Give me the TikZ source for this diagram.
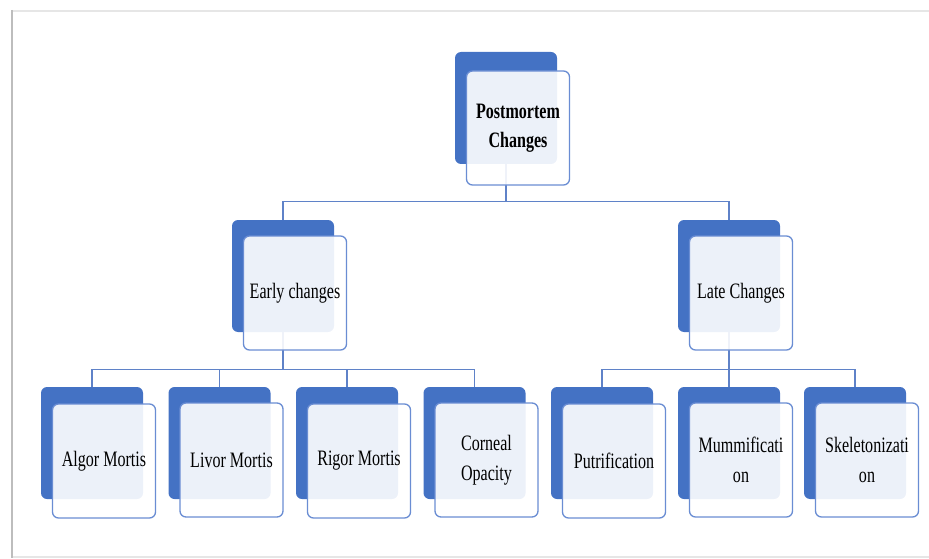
\documentclass[tikz,border=0pt]{standalone}
\usepackage{fontspec}
\newfontfamily\narrowserif[FakeStretch=0.73]{Liberation Serif}
\definecolor{officeblue}{HTML}{4472C4}
\definecolor{edgeblue}{HTML}{6A8DD3}
\definecolor{linkblue}{HTML}{5F82C8}
\definecolor{framegrey}{HTML}{E6E6E6}
\definecolor{sidegrey}{HTML}{BDBDBD}
\tikzset{
  backcard/.style={fill=officeblue, rounded corners=6pt, minimum width=102pt, minimum height=112pt, inner sep=0pt},
  frontcard/.style={draw=edgeblue, fill=white, fill opacity=0.9, text opacity=1, line width=1.3pt, rounded corners=6pt,
    minimum width=103pt, minimum height=114pt, inner sep=2pt, align=center, font=\narrowserif\fontsize{22}{30}\selectfont},
  link/.style={draw=linkblue, line width=1.1pt}
}
\begin{document}
\begin{tikzpicture}[x=1pt, y=-1pt]
  \useasboundingbox (0,0) rectangle (929,559);
  \draw[framegrey, line width=2pt] (929,11) -- (12,11);
  \draw[framegrey, line width=2pt] (12,557) -- (929,557);
  \draw[sidegrey, line width=2.5pt] (12,10) -- (12,558);

  \node[backcard] (pmb) at (506,108) {};
  \node[backcard] (earlyb) at (283,276) {};
  \node[backcard] (lateb) at (729,276) {};
  \node[backcard] (algorb) at (92,443) {};
  \node[backcard] (livorb) at (219.5,443) {};
  \node[backcard] (rigorb) at (347,443) {};
  \node[backcard] (corneab) at (474.5,443) {};
  \node[backcard] (putrib) at (602,443) {};
  \node[backcard] (mummib) at (729,443) {};
  \node[backcard] (skeleb) at (855,443) {};

  \draw[link] (pmb.south) -- ([yshift=-37pt]pmb.south) -| (earlyb.north);
  \draw[link] ([yshift=-37pt]pmb.south) -| (lateb.north);
  \draw[link] (earlyb.south) -- ([yshift=-37pt]earlyb.south) -| (algorb.north);
  \draw[link] ([yshift=-37pt]earlyb.south) -| (livorb.north);
  \draw[link] ([yshift=-37pt]earlyb.south) -| (rigorb.north);
  \draw[link] ([yshift=-37pt]earlyb.south) -| (corneab.north);
  \draw[link] (lateb.south) -- ([yshift=-37pt]lateb.south) -| (putrib.north);
  \draw[link] ([yshift=-37pt]lateb.south) -| (mummib.north);
  \draw[link] ([yshift=-37pt]lateb.south) -| (skeleb.north);

  \node[frontcard] (pm) at ([shift={(12,20)}]pmb.center) {\textbf{Postmortem}\\[-1pt]\textbf{Changes}};
  \node[frontcard] (early) at ([shift={(12,17)}]earlyb.center) {Early changes};
  \node[frontcard] (late) at ([shift={(12,17)}]lateb.center) {Late Changes};
  \node[frontcard] (algor) at ([shift={(12,18)}]algorb.center) {Algor Mortis};
  \node[frontcard] (livor) at ([shift={(12,17)}]livorb.center) {Livor Mortis};
  \node[frontcard] (rigor) at ([shift={(12,18)}]rigorb.center) {Rigor Mortis};
  \node[frontcard] (cornea) at ([shift={(12,17)}]corneab.center) {Corneal\\Opacity};
  \node[frontcard] (putri) at ([shift={(12,18)}]putrib.center) {Putrification};
  \node[frontcard] (mummi) at ([shift={(12,17)}]mummib.center) {Mummificati\\on};
  \node[frontcard] (skele) at ([shift={(12,17)}]skeleb.center) {Skeletonizati\\on};
\end{tikzpicture}
\end{document}
